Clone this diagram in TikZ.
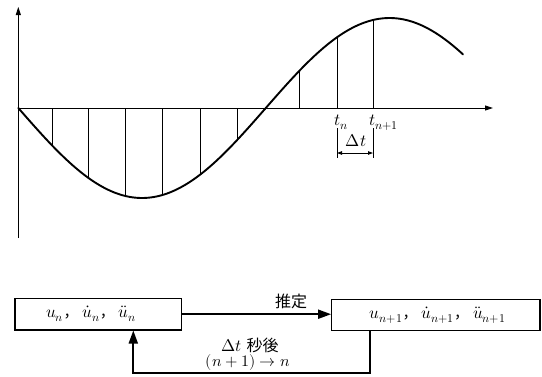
\documentclass[tikz,border=0pt]{standalone}
\usepackage{fontspec}
\usepackage{unicode-math}
\setmathfont{Latin Modern Math}
\newfontfamily\cjk{Noto Sans CJK JP}
\newcommand{\jpc}{{\cjk\fontsize{15}{18}\selectfont ，}\hspace{4pt}}
\usetikzlibrary{arrows.meta}
\begin{document}
\begin{tikzpicture}[x=1pt,y=-1pt,
  axis/.style={line width=0.9pt, -{Triangle[length=8pt,width=5pt]}},
  curve/.style={line width=1.9pt, line cap=round},
  ord/.style={line width=0.8pt},
  box/.style={draw, line width=1.1pt, minimum height=31.5pt, inner sep=0pt, font=\fontsize{17}{20}\selectfont},
  flow/.style={line width=1.9pt, -{Triangle[length=13pt,width=9pt]}},
  lbl/.style={font=\fontsize{17}{20}\selectfont, inner sep=0pt},
  jp/.style={font=\cjk\fontsize{16}{19}\selectfont, inner sep=0pt},
  dim/.style={line width=0.8pt, {Triangle[length=5pt,width=3.5pt]}-{Triangle[length=5pt,width=3.5pt]}}
]
\useasboundingbox (0,0) rectangle (542,376);
% axes
\coordinate (O) at (18.3,108);
\coordinate (ytop) at (18.3,7);
\coordinate (ybot) at (18.3,238);
\coordinate (xend) at (493,108);
\draw[axis] (ybot) -- (ytop);
\draw[axis] (O) -- (xend);
% ordinates
\foreach \xx in {52,88.5,125,162.5,200,237.5,299,337,373}
  \draw[ord] (\xx,108) -- (\xx,{108+90*sin(0.727273*(\xx-18.3))});
% curve
\draw[curve] plot[domain=18.3:463, samples=150, smooth] (\x,{108+90*sin(0.727273*(\x-18.3))});
% time labels
\node[lbl, anchor=base west] (tn) at (334,125) {$t_n$};
\node[lbl, anchor=base west] (tn1) at (369,125) {$t_{n+1}$};
\coordinate (k1t) at (337,128); \coordinate (k1b) at (337,158);
\coordinate (k2t) at (373,128); \coordinate (k2b) at (373,158);
\draw[ord] (k1t) -- (k1b);
\draw[ord] (k2t) -- (k2b);
\coordinate (d1) at (337,153); \coordinate (d2) at (373,153);
\draw[dim] (d1) -- (d2);
\node[lbl] (dt) at (356,141) {$\mitDelta t$};
% flow
\node[box, minimum width=166.7pt] (A) at (98.3,314.2) {\hspace{-14pt}$u_n$\jpc$\dot{u}_n$\jpc$\ddot{u}_n$};
\node[box, minimum width=208.3pt] (B) at (435.8,315) {\hspace{4pt}$u_{n+1}$\jpc$\dot{u}_{n+1}$\jpc$\ddot{u}_{n+1}$};
\draw[flow] (A.east) -- (A.east -| B.west);
\node[jp] (est) at (291,301.7) {推定};
\coordinate (loop) at (250,373.3);
\draw[flow] ([xshift=-65.8pt]B.south) |- (loop) -| ([xshift=35pt]A.south);
\node[lbl] (after) at (250,345) {$\mitDelta t$\ {\cjk\fontsize{16}{19}\selectfont 秒後}};
\node[lbl, font=\fontsize{16}{19}\selectfont] (shift) at (248,362) {$(n+1)\rightarrow n$};
\end{tikzpicture}
\end{document}
